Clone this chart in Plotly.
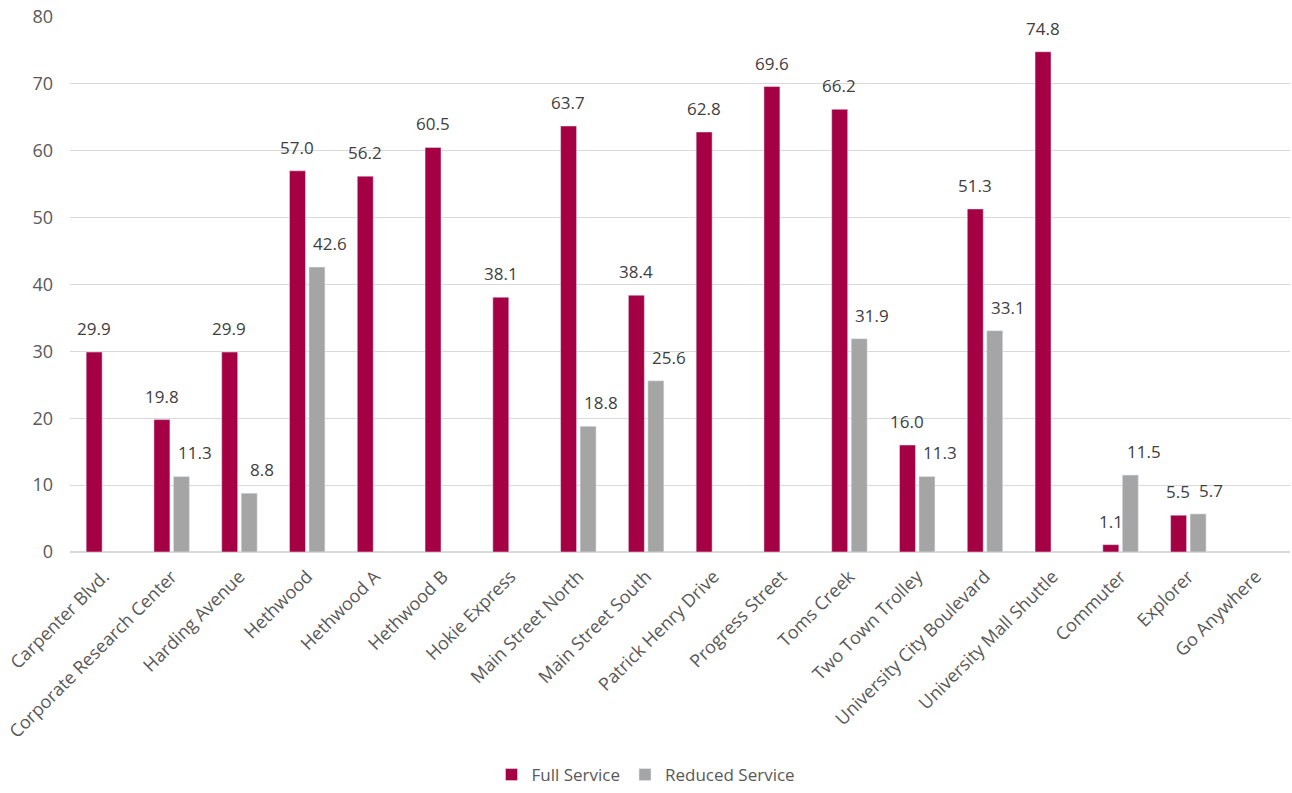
import plotly.graph_objects as go

categories = ["Carpenter Blvd.", "Corporate Research Center", "Harding Avenue", "Hethwood",
              "Hethwood A", "Hethwood B", "Hokie Express", "Main Street North",
              "Main Street South", "Patrick Henry Drive", "Progress Street", "Toms Creek",
              "Two Town Trolley", "University City Boulevard", "University Mall Shuttle",
              "Commuter", "Explorer", "Go Anywhere"]
full_service = [29.9, 19.8, 29.9, 57.0, 56.2, 60.5, 38.1, 63.7, 38.4, 62.8, 69.6, 66.2,
                16.0, 51.3, 74.8, 1.1, 5.5, None]
reduced_service = [None, 11.3, 8.8, 42.6, None, None, None, 18.8, 25.6, None, None, 31.9,
                   11.3, 33.1, None, 11.5, 5.7, None]

font = "Open Sans, Liberation Sans, sans-serif"
RED = "#A50044"
GRAY = "#A5A5A5"

fig = go.Figure()
fig.add_trace(go.Bar(name="Full Service", x=categories, y=full_service, marker_color=RED))
fig.add_trace(go.Bar(name="Reduced Service", x=categories, y=reduced_service, marker_color=GRAY))

# data labels above each bar
for vals, shift in ((full_service, -10), (reduced_service, 23)):
    for cat, v in zip(categories, vals):
        if v is None:
            continue
        fig.add_annotation(x=cat, y=v, text=f"{v:.1f}", showarrow=False,
                           xanchor="center", yanchor="bottom", xshift=shift, yshift=10,
                           font=dict(family=font, size=17, color="#404040"))

fig.update_layout(
    width=1292, height=793,
    margin=dict(l=70, r=2, t=17, b=241),
    plot_bgcolor="white", paper_bgcolor="white",
    barmode="group", bargap=0.425, bargroupgap=0.18,
    font=dict(family=font, color="#595959", size=17),
    legend=dict(orientation="h", xref="container", x=0.5, xanchor="center",
                yref="container", y=0.0, yanchor="bottom",
                font=dict(size=17, color="#595959")),
)
fig.update_yaxes(range=[0, 80], dtick=10, showgrid=True, gridcolor="#D9D9D9",
                 gridwidth=1, zeroline=True, zerolinecolor="#D9D9D9",
                 tickfont=dict(size=18, color="#595959"), ticklabelstandoff=16,
                 showline=False)
fig.update_xaxes(tickangle=-45, tickfont=dict(size=18, color="#595959"),
                 ticklabelstandoff=6,
                 showline=True, linecolor="#D9D9D9", showgrid=False)

fig.write_html("out.html")
